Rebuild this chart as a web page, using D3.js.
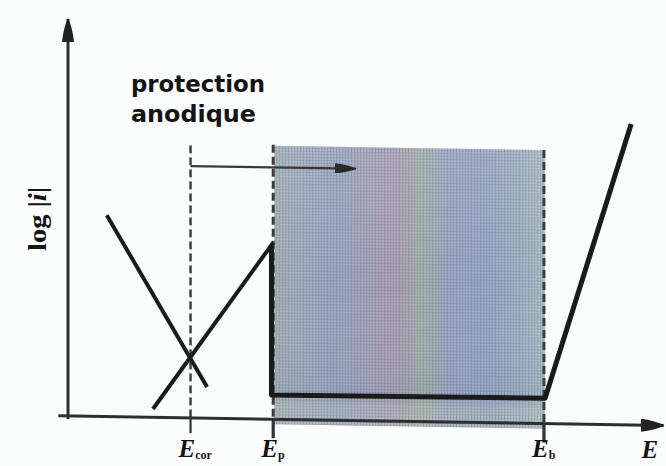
<!DOCTYPE html>
<html>
<head>
<meta charset="utf-8">
<script src="https://cdn.jsdelivr.net/npm/d3@7"></script>
<style>
  html, body { margin: 0; padding: 0; background: #fbfdfd; }
  svg { display: block; }
</style>
</head>
<body>
<svg id="chart" width="666" height="466"></svg>
<script>
// Schematic polarisation curve of a passivable metal (potential E vs log|i|)

// Characteristic potentials (arbitrary units along E)
const potentialNames = ["cor", "p", "b"];
const potentialValues = [2.15, 3.6, 8.35];

// Partial / total curves as [E, log|i|] pairs
const cathodicBranch = [[0.68, 5.3], [2.44, 0.82]];
const anodicActive   = [[1.49, 0.22], [3.6, 4.65]];
const passiveCurve   = [[3.57, 4.55], [3.57, 0.64], [8.37, 0.67], [9.88, 7.92]];

// Anodic protection window and its arrow
const shadeTop = 7.2;
const protectionArrow = [[2.15, 6.63], [5.05, 6.63]];
const protectionText = ["protection", "anodique"];

const svg = d3.select("#chart");

const x = d3.scaleLinear().domain([0, 10]).range([68, 638]);
const y = d3.scaleLinear().domain([0, 10]).range([416, 36]);

const [Ecor, Ep, Eb] = potentialValues;
const ink = "#1b1b1b";

const defs = svg.append("defs");

// soft colour wash of the protection window
const grad = defs.append("linearGradient").attr("id", "wash")
  .attr("x1", "0%").attr("x2", "100%").attr("y1", "0%").attr("y2", "0%");
[
  [0.00, "#a2b4b8"], [0.10, "#a3adc0"], [0.22, "#9ba7c4"], [0.35, "#a7a3bc"],
  [0.46, "#aca1b6"], [0.55, "#a5b3a9"], [0.64, "#9ca7c4"], [0.78, "#99a7c6"],
  [0.90, "#a1b1c4"], [1.00, "#a9c0c8"]
].forEach(([o, c]) => grad.append("stop").attr("offset", o).attr("stop-color", c));

const vgrad = defs.append("linearGradient").attr("id", "vwash")
  .attr("x1", "0%").attr("x2", "0%").attr("y1", "0%").attr("y2", "100%");
[[0, "#ffffff", 0.12], [0.5, "#ffffff", 0.0], [0.88, "#6f7f98", 0.10], [0.93, "#d6dcc0", 0.25], [1, "#c8d8c0", 0.3]]
  .forEach(([o, c, a]) => vgrad.append("stop").attr("offset", o).attr("stop-color", c).attr("stop-opacity", a));

// fine screen texture
const pat = defs.append("pattern").attr("id", "screen")
  .attr("width", 3).attr("height", 3).attr("patternUnits", "userSpaceOnUse");
pat.append("rect").attr("x", 0).attr("y", 0).attr("width", 1).attr("height", 3)
  .attr("fill", "#4f5c72").attr("opacity", 0.22);
pat.append("rect").attr("x", 0).attr("y", 0).attr("width", 3).attr("height", 1)
  .attr("fill", "#4f5c72").attr("opacity", 0.18);
pat.append("rect").attr("x", 1.5).attr("y", 1.5).attr("width", 1).attr("height", 1)
  .attr("fill", "#ffffff").attr("opacity", 0.25);

function head(id, len, wid, color) {
  const m = defs.append("marker").attr("id", id)
    .attr("viewBox", `0 0 ${len} ${wid}`).attr("refX", len - 1).attr("refY", wid / 2)
    .attr("markerWidth", len).attr("markerHeight", wid).attr("markerUnits", "userSpaceOnUse")
    .attr("orient", "auto");
  m.append("path")
    .attr("d", `M0,0 Q${len * 0.55},${wid * 0.1} ${len},${wid / 2} Q${len * 0.55},${wid * 0.9} 0,${wid} Z`)
    .attr("fill", color);
}
head("headY", 24, 12, "#222");
head("headX", 24, 13, "#222");
head("headP", 22, 10, "#2a2a2a");

// plot group carries a slight tilt of the horizontal axis
const g = svg.append("g")
  .attr("transform", `translate(${x(0)},0) skewY(0.92) translate(${-x(0)},0)`);

// protection window
const rx = x(Ep) + 1, rw = x(Eb) - x(Ep);
["url(#wash)", "url(#vwash)", "url(#screen)"].forEach(f =>
  g.append("rect").attr("x", rx).attr("y", y(shadeTop)).attr("width", rw)
    .attr("height", y(0) - y(shadeTop) + 5).attr("fill", f));

// dashed potential markers
const dashTop = [y(shadeTop) + 1, y(shadeTop) - 1, y(shadeTop)];
potentialValues.forEach((E, i) => {
  g.append("line")
    .attr("x1", x(E)).attr("x2", x(E))
    .attr("y1", dashTop[i]).attr("y2", y(0))
    .attr("stroke", "#3c3c3c").attr("stroke-width", i === 0 ? 2.4 : 3)
    .attr("stroke-dasharray", "8,4");
  // tick below the axis
  g.append("line")
    .attr("x1", x(E)).attr("x2", x(E))
    .attr("y1", y(0)).attr("y2", y(0) + (i === 0 ? 15 : 19))
    .attr("stroke", "#333").attr("stroke-width", i === 0 ? 2.2 : 3.2);
});

// axes
g.append("line").attr("x1", x(-0.17)).attr("x2", x(10.45))
  .attr("y1", y(0)).attr("y2", y(0))
  .attr("stroke", "#2e2e2e").attr("stroke-width", 3)
  .attr("marker-end", "url(#headX)");
svg.append("line").attr("x1", x(0)).attr("x2", x(0))
  .attr("y1", y(0) + 3).attr("y2", y(10.45))
  .attr("stroke", "#2e2e2e").attr("stroke-width", 3)
  .attr("marker-end", "url(#headY)");

const line = d3.line().x(d => x(d[0])).y(d => y(d[1]));

g.append("path").datum(cathodicBranch).attr("d", line)
  .attr("fill", "none").attr("stroke", ink).attr("stroke-width", 4);
g.append("path").datum(anodicActive).attr("d", line)
  .attr("fill", "none").attr("stroke", ink).attr("stroke-width", 4);
g.append("path").datum(passiveCurve).attr("d", line)
  .attr("fill", "none").attr("stroke", ink).attr("stroke-width", 5)
  .attr("stroke-linejoin", "round");

// protection arrow
g.append("path").datum(protectionArrow).attr("d", line)
  .attr("fill", "none").attr("stroke", "#3a3a3a").attr("stroke-width", 2.2)
  .attr("marker-end", "url(#headP)");

// texts
const txt = svg.append("g").attr("fill", "#141414");
txt.selectAll("text.prot").data(protectionText).join("text")
  .attr("class", "prot")
  .attr("x", 131).attr("y", (d, i) => 92 + i * 30)
  .attr("font-family", "DejaVu Sans Condensed, DejaVu Sans, sans-serif").attr("font-weight", "bold")
  .attr("font-stretch", "condensed")
  .attr("font-size", 23)
  .attr("textLength", (d, i) => i === 0 ? 134 : 125)
  .attr("lengthAdjust", "spacingAndGlyphs")
  .text(d => d);

const yl = txt.append("text")
  .attr("transform", `translate(46,219) rotate(-90)`)
  .attr("text-anchor", "middle")
  .attr("font-family", "Liberation Serif, serif").attr("font-weight", "bold")
  .attr("font-size", 25)
  .attr("textLength", 64)
  .attr("lengthAdjust", "spacingAndGlyphs");
yl.append("tspan").text("log |");
yl.append("tspan").attr("font-style", "italic").text("i");
yl.append("tspan").text("|");

const labelOffsets = [-12, -12, -12];
potentialValues.forEach((E, i) => {
  const t = txt.append("text")
    .attr("x", x(E) + labelOffsets[i]).attr("y", 457)
    .attr("font-family", "Liberation Serif, serif").attr("font-weight", "bold")
    .attr("font-style", "italic").attr("font-size", 25);
  t.append("tspan").text("E");
  t.append("tspan").attr("font-size", 12).attr("dy", 2).attr("font-style", "normal")
    .text(potentialNames[i]);
});
txt.append("text").attr("x", x(10.06)).attr("y", 458)
  .attr("font-family", "Liberation Serif, serif").attr("font-weight", "bold")
  .attr("font-style", "italic").attr("font-size", 25).text("E");
</script>
</body>
</html>
